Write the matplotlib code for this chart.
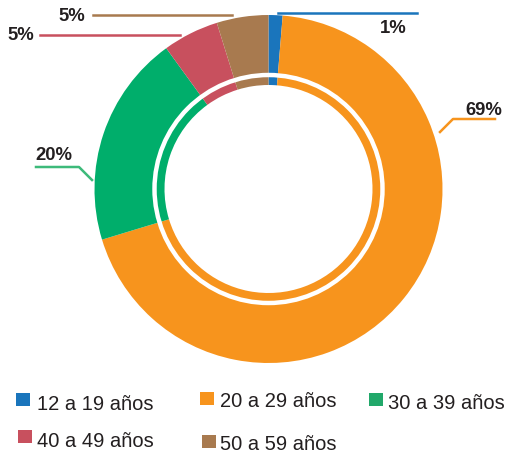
import matplotlib
matplotlib.use("Agg")
import matplotlib.pyplot as plt
from matplotlib.patches import Circle, Rectangle

plt.rcParams['font.family'] = ['Liberation Sans', 'DejaVu Sans']

# age groups and share of the total (%)
categories = ['12 a 19 años', '20 a 29 años', '30 a 39 años', '40 a 49 años', '50 a 59 años']
shares = [1.3, 69.0, 19.7, 5.2, 4.8]
colors = ['#1a75bc', '#f7941d', '#00ae6b', '#c8505e', '#a87a4f']
legend_colors = ['#1a75bc', '#f7941d', '#21a86a', '#c8505e', '#a87a4f']

W, H = 507, 454
fig = plt.figure(figsize=(W / 100, H / 100), dpi=100)
ax = fig.add_axes([0, 0, 1, 1])

def Y(y):
    # image rows -> axes units (y up)
    return H - y

cx, cy = 268.5, Y(189)
r_out = 174
ax.pie(shares, colors=colors, startangle=90, counterclock=False,
       radius=r_out, center=(cx, cy),
       wedgeprops=dict(width=r_out - 104, linewidth=0))
# white ring splitting the donut
ax.add_patch(Circle((cx, cy), 114, fill=False, edgecolor='white', lw=3.2))

ax.set_xlim(0, W)
ax.set_ylim(0, H)
ax.set_aspect('equal')
ax.axis('off')

txt = '#231f20'
lbl = dict(fontsize=13.3, fontweight='bold', color=txt, va='baseline', ha='left')
labels = ['%d%%' % round(s) for s in shares]

# leader lines + labels
ax.plot([278, 417], [Y(13), Y(13)], color=colors[0], lw=1.8)
ax.text(380, Y(33), labels[0], **lbl)

ax.plot([440, 453, 495], [Y(132), Y(119), Y(119)], color=colors[1], lw=1.8)
ax.text(465, Y(115), labels[1], **lbl)

ax.plot([36, 79, 92], [Y(167), Y(167), Y(180)], color='#3dba7a', lw=1.8)
ax.text(35, Y(160), labels[2], **lbl)

ax.plot([40, 180], [Y(35), Y(35)], color=colors[3], lw=1.8)
ax.text(7, Y(40), labels[3], **lbl)

ax.plot([93, 232], [Y(15), Y(15)], color=colors[4], lw=1.8)
ax.text(58, Y(21), labels[4], **lbl)

# legend, laid out by hand: square corner, text start, baseline
legend_sq = [(16, 393), (200, 392), (369, 393), (18, 430), (202, 435)]
legend_txt = [(37, 410), (220, 407), (388, 409), (37, 447), (220, 450)]
for (sx, sy), (tx, ty), name, c in zip(legend_sq, legend_txt, categories, legend_colors):
    ax.add_patch(Rectangle((sx, Y(sy) - 13), 13.5, 13.5, facecolor=c, edgecolor='none'))
    ax.text(tx, Y(ty), name, fontsize=14.5, color=txt, va='baseline', ha='left')

fig.savefig('out.png', dpi=100)
